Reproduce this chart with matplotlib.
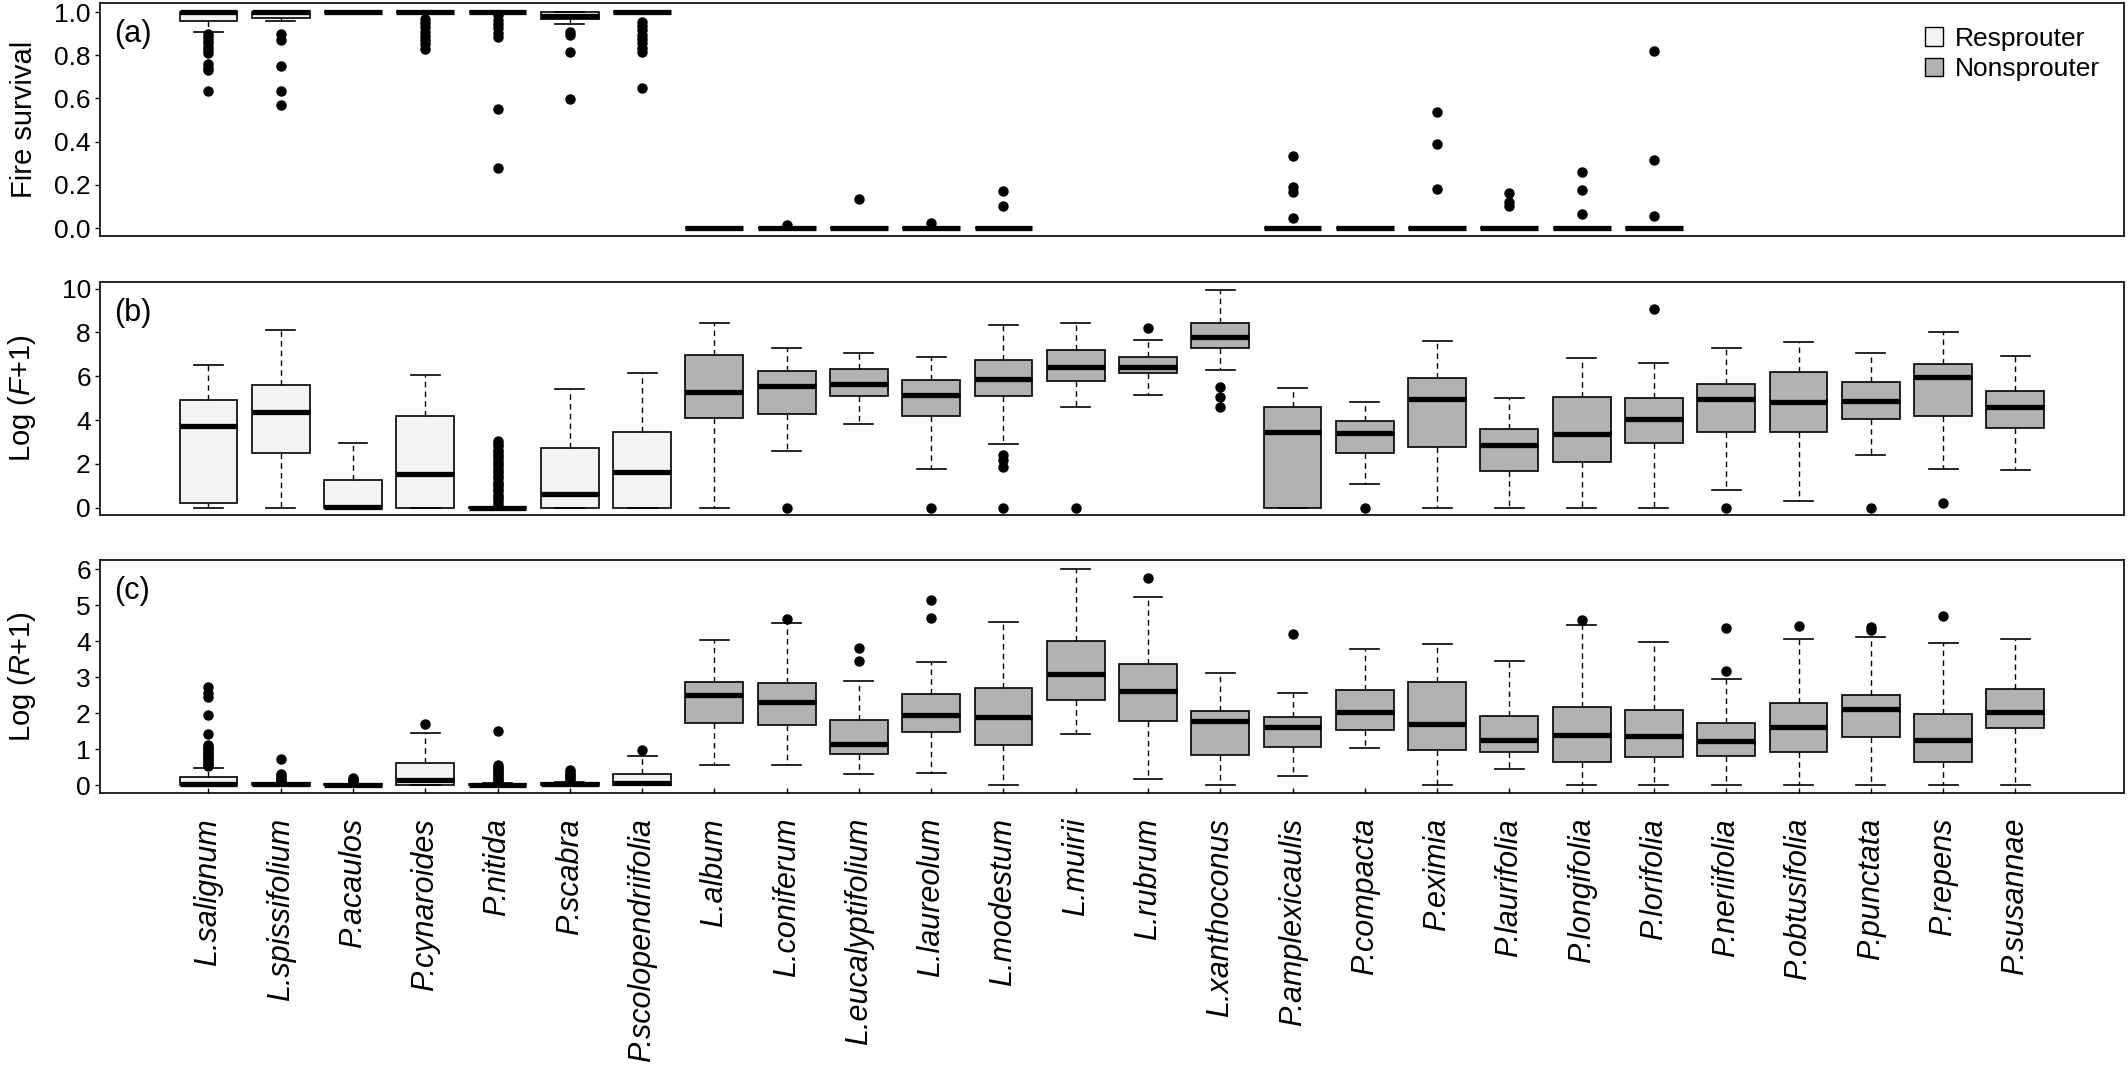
import matplotlib
matplotlib.use("Agg")
import matplotlib.pyplot as plt
from matplotlib.patches import Patch

plt.rcParams['font.family'] = ['Liberation Sans', 'DejaVu Sans']
plt.rcParams['mathtext.fontset'] = 'custom'
plt.rcParams['mathtext.it'] = 'Liberation Sans:italic'
plt.rcParams['mathtext.rm'] = 'Liberation Sans'

# species, first 7 are resprouters
species = ['L.salignum', 'L.spissifolium', 'P.acaulos', 'P.cynaroides', 'P.nitida',
           'P.scabra', 'P.scolopendriifolia', 'L.album', 'L.coniferum',
           'L.eucalyptifolium', 'L.laureolum', 'L.modestum', 'L.muirii', 'L.rubrum',
           'L.xanthoconus', 'P.amplexicaulis', 'P.compacta', 'P.eximia',
           'P.laurifolia', 'P.longifolia', 'P.lorifolia', 'P.neriifolia',
           'P.obtusifolia', 'P.punctata', 'P.repens', 'P.susannae']
n_resprouter = 7

# (a) fire survival  (None = no data)
surv_lo = [0.91, 0.958, 1.0, 1.0, 1.0, 0.943, 1.0, 0, 0, 0, 0, 0, None, None, None,
           0, 0, 0, 0, 0, 0, None, None, None, None, None]
surv_q1 = [0.96, 0.974, 1.0, 1.0, 1.0, 0.966, 1.0, 0, 0, 0, 0, 0, None, None, None,
           0, 0, 0, 0, 0, 0, None, None, None, None, None]
surv_med = [1.0, 1.0, 1.0, 1.0, 1.0, 0.98, 1.0, 0, 0, 0, 0, 0, None, None, None,
            0, 0, 0, 0, 0, 0, None, None, None, None, None]
surv_q3 = [1.0, 1.0, 1.0, 1.0, 1.0, 1.0, 1.0, 0, 0, 0, 0, 0, None, None, None,
           0, 0, 0, 0, 0, 0, None, None, None, None, None]
surv_hi = [1.0, 1.0, 1.0, 1.0, 1.0, 1.0, 1.0, 0, 0, 0, 0, 0, None, None, None,
           0, 0, 0, 0, 0, 0, None, None, None, None, None]
surv_out = [[0.9, 0.885, 0.87, 0.855, 0.84, 0.825, 0.81, 0.76, 0.74, 0.73, 0.635],
            [0.9, 0.872, 0.749, 0.635, 0.572],
            [],
            [0.97, 0.95, 0.93, 0.91, 0.89, 0.87, 0.85, 0.83],
            [0.985, 0.965, 0.945, 0.925, 0.905, 0.885, 0.549, 0.279],
            [0.908, 0.895, 0.815, 0.598],
            [0.955, 0.935, 0.915, 0.895, 0.875, 0.855, 0.835, 0.815, 0.647],
            [], [0.015], [0.133], [0.025], [0.1, 0.17], [], [], [],
            [0.045, 0.165, 0.19, 0.334], [], [0.18, 0.388, 0.538],
            [0.1, 0.12, 0.163], [0.063, 0.176, 0.26], [0.055, 0.314, 0.82],
            [], [], [], [], []]

# (b) log(F+1)
f_lo = [0, 0, 0, 0, 0, 0, 0, 0, 2.57, 3.83, 1.78, 2.89, 4.6, 5.15, 6.28,
        0, 1.1, 0, 0, 0, 0, 0.8, 0.31, 2.39, 1.78, 1.73]
f_q1 = [0.2, 2.48, 0, 0, 0, 0, 0, 4.09, 4.26, 5.11, 4.2, 5.1, 5.8, 6.17, 7.29,
        0, 2.48, 2.76, 1.68, 2.07, 2.94, 3.46, 3.46, 4.03, 4.2, 3.64]
f_med = [3.74, 4.36, 0.02, 1.55, 0, 0.61, 1.64, 5.3, 5.57, 5.64, 5.13, 5.88, 6.4, 6.43, 7.79,
         3.46, 3.4, 4.98, 2.88, 3.37, 4.03, 4.95, 4.81, 4.87, 5.97, 4.58]
f_q3 = [4.93, 5.6, 1.26, 4.2, 0.05, 2.71, 3.48, 6.98, 6.25, 6.31, 5.85, 6.75, 7.18, 6.86, 8.42,
        4.59, 3.95, 5.9, 3.6, 5.04, 4.99, 5.65, 6.19, 5.73, 6.54, 5.31]
f_hi = [6.5, 8.09, 2.97, 6.05, 0.05, 5.44, 6.17, 8.45, 7.29, 7.07, 6.89, 8.35, 8.45, 7.66, 9.95,
        5.47, 4.82, 7.63, 5.0, 6.85, 6.6, 7.3, 7.57, 7.06, 8.0, 6.92]
f_out = [[], [], [], [],
         [0.15, 0.25, 0.4, 0.5, 0.6, 0.75, 0.85, 1.0, 1.1, 1.2, 1.35, 1.45, 1.6, 1.7,
          1.8, 1.95, 2.05, 2.2, 2.3, 2.4, 2.55, 2.65, 2.8, 2.9, 3.05],
         [], [], [], [0], [], [0], [2.4, 2.2, 1.85, 0], [0], [8.22], [5.51, 5.05, 4.62],
         [], [0], [], [], [], [9.05], [0], [], [0], [0.2], []]

# (c) log(R+1)
r_lo = [0, 0, 0, 0, 0, 0, 0, 0.57, 0.57, 0.32, 0.34, 0, 1.43, 0.18, 0,
        0.25, 1.02, 0, 0.45, 0, 0, 0, 0, 0, 0, 0]
r_q1 = [0, 0, 0, 0.01, 0, 0, 0, 1.71, 1.66, 0.85, 1.46, 1.1, 2.35, 1.79, 0.84,
        1.06, 1.54, 0.97, 0.91, 0.63, 0.78, 0.82, 0.91, 1.34, 0.65, 1.58]
r_med = [0.03, 0.02, 0.01, 0.15, 0.01, 0.02, 0.06, 2.51, 2.32, 1.15, 1.94, 1.89, 3.08, 2.62, 1.79,
         1.61, 2.04, 1.69, 1.26, 1.4, 1.37, 1.23, 1.6, 2.1, 1.24, 2.02]
r_q3 = [0.21, 0.05, 0.03, 0.62, 0.04, 0.06, 0.32, 2.85, 2.83, 1.8, 2.53, 2.7, 4.0, 3.35, 2.07,
        1.89, 2.64, 2.85, 1.93, 2.18, 2.09, 1.73, 2.29, 2.49, 1.96, 2.67]
r_hi = [0.47, 0.06, 0.04, 1.44, 0.06, 0.08, 0.8, 4.03, 4.51, 2.89, 3.41, 4.52, 6.0, 5.21, 3.1,
        2.56, 3.77, 3.92, 3.44, 4.44, 3.97, 2.94, 4.07, 4.1, 3.94, 4.06]
r_out = [[0.52, 0.57, 0.62, 0.67, 0.72, 0.77, 0.82, 0.87, 0.92, 0.97, 1.02, 1.07, 1.12,
          1.41, 1.94, 2.44, 2.55, 2.73],
         [0.1, 0.15, 0.2, 0.25, 0.3, 0.72],
         [0.08, 0.12, 0.16, 0.19],
         [1.7],
         [0.1, 0.15, 0.2, 0.25, 0.3, 0.35, 0.4, 0.45, 0.5, 0.55, 1.5],
         [0.12, 0.17, 0.22, 0.27, 0.32, 0.37, 0.42],
         [0.98],
         [], [4.6], [3.45, 3.8], [4.65, 5.13], [], [], [5.75], [],
         [4.2], [], [], [], [4.58], [], [3.17, 4.37], [4.42], [4.3, 4.38], [4.7], []]

resp_col = '#f3f3f3'
non_col = '#b2b2b2'


def draw_panel(ax, lo, q1, med, q3, hi, out):
    stats, pos = [], []
    for i in range(len(species)):
        if med[i] is None:
            continue
        stats.append(dict(whislo=lo[i], q1=q1[i], med=med[i], q3=q3[i],
                          whishi=hi[i], fliers=out[i]))
        pos.append(i + 1)
    bp = ax.bxp(stats, positions=pos, widths=0.8, patch_artist=True,
                manage_ticks=False,
                boxprops=dict(edgecolor='black', linewidth=1.2),
                whiskerprops=dict(color='black', linewidth=1.0, linestyle=(0, (4, 3))),
                capprops=dict(color='black', linewidth=1.2),
                medianprops=dict(color='black', linewidth=3.8, solid_capstyle='butt'),
                flierprops=dict(marker='o', markerfacecolor='black',
                                markeredgecolor='black', markersize=6.5))
    for box, p in zip(bp['boxes'], pos):
        box.set_facecolor(resp_col if p <= n_resprouter else non_col)
    ax.set_xlim(-0.5, 27.5)
    for s in ax.spines.values():
        s.set_linewidth(1.2)
    ax.tick_params(axis='y', direction='out', length=3.6, width=1, pad=3, labelsize=19)


fig = plt.figure(figsize=(21.28, 10.71), dpi=100)
ax_a = fig.add_axes([0.047, 0.7796, 0.951, 0.2176])
ax_b = fig.add_axes([0.047, 0.5191, 0.951, 0.2176])
ax_c = fig.add_axes([0.047, 0.2596, 0.951, 0.2175])

draw_panel(ax_a, surv_lo, surv_q1, surv_med, surv_q3, surv_hi, surv_out)
draw_panel(ax_b, f_lo, f_q1, f_med, f_q3, f_hi, f_out)
draw_panel(ax_c, r_lo, r_q1, r_med, r_q3, r_hi, r_out)

ax_a.set_ylim(-0.037, 1.042)
ax_a.set_yticks([0, 0.2, 0.4, 0.6, 0.8, 1.0])
ax_a.set_yticklabels(['0.0', '0.2', '0.4', '0.6', '0.8', '1.0'])
ax_b.set_ylim(-0.33, 10.3)
ax_b.set_yticks([0, 2, 4, 6, 8, 10])
ax_c.set_ylim(-0.22, 6.25)
ax_c.set_yticks([0, 1, 2, 3, 4, 5, 6])

for ax in (ax_a, ax_b):
    ax.set_xticks([])

ax_c.set_xticks(range(1, len(species) + 1))
ax_c.set_xticklabels(species, rotation=90, fontstyle='italic', fontsize=22)
ax_c.tick_params(axis='x', direction='in', length=3.5, width=1, pad=18)

ylabels = ['Fire survival', 'Log ($\\mathit{F}$+1)', 'Log ($\\mathit{R}$+1)']
for ax, lab, tag in zip((ax_a, ax_b, ax_c), ylabels, ['(a)', '(b)', '(c)']):
    ax.set_ylabel(lab, fontsize=21)
    ax.yaxis.set_label_coords(-0.0305, 0.5)
    ax.text(0.007, 0.93, tag, transform=ax.transAxes, ha='left', va='top', fontsize=22)

handles = [Patch(facecolor=resp_col, edgecolor='black', linewidth=1.0, label='Resprouter'),
           Patch(facecolor=non_col, edgecolor='black', linewidth=1.0, label='Nonsprouter')]
ax_a.legend(handles=handles, loc='upper right', bbox_to_anchor=(1.0, 1.0),
            borderaxespad=0, fontsize=19, handlelength=0.7, handleheight=0.7,
            handletextpad=0.45, borderpad=0.9, labelspacing=0.25, frameon=False)

fig.savefig('out.png', dpi=100)
